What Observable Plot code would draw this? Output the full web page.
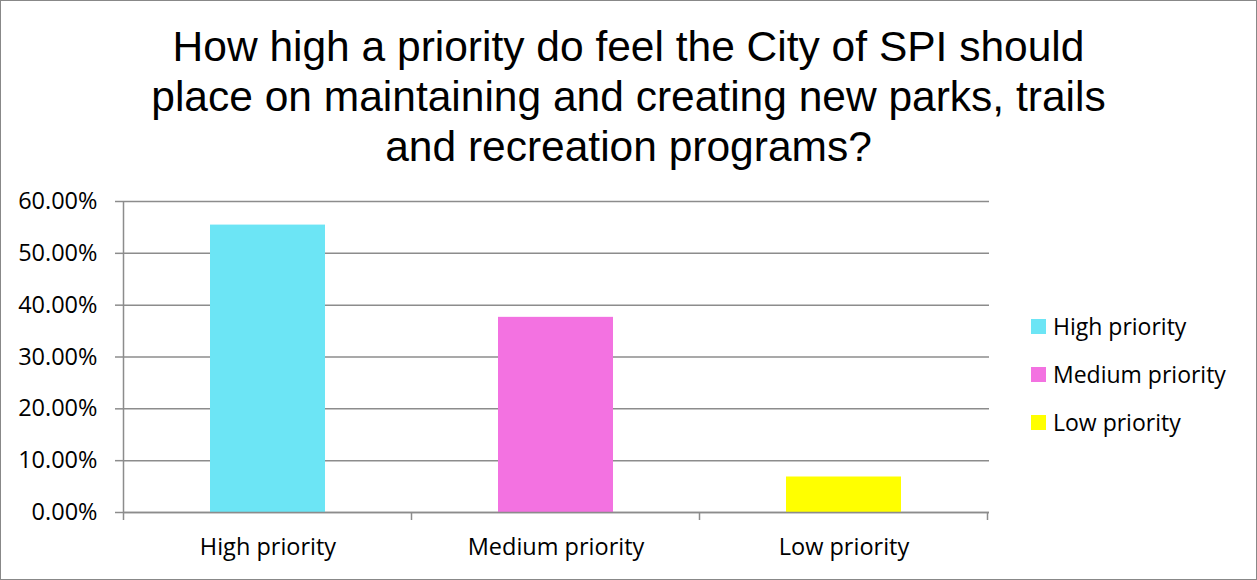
<!DOCTYPE html>
<html><head><meta charset="utf-8">
<script src="https://cdn.jsdelivr.net/npm/d3@7"></script>
<script src="https://cdn.jsdelivr.net/npm/@observablehq/plot@0.6"></script>
<style>
html,body{margin:0;padding:0;background:#fff;}
#wrap{position:relative;width:1257px;height:580px;overflow:hidden;}
#box{position:absolute;left:0;top:0;width:1255px;height:578px;border:1px solid #888;}
#title{position:absolute;left:0;top:22px;width:1257px;text-align:center;font-family:"Liberation Sans",Arial,sans-serif;font-size:42.5px;line-height:50px;color:#000;}
#chart{position:absolute;left:0;top:180px;}
#legend{position:absolute;left:1031px;top:302px;font-family:"Open Sans",Lato,sans-serif;font-size:23px;color:#000;}
.li{display:flex;align-items:center;height:48px;}
.sw{width:15px;height:15px;margin-right:7px;}
</style></head>
<body><div id="wrap"><div id="box"></div>
<div id="title">How high a priority do feel the City of SPI should<br>place on maintaining and creating new parks, trails<br>and recreation programs?</div>
<div id="chart"></div><div id="legend"></div></div>
<script>
const categories = ["High priority", "Medium priority", "Low priority"];
const values = [0.5545, 0.3765, 0.0685];
const colors = ["#6CE5F5", "#F372E1", "#FFFF00"];
const yTicks = [0, 0.1, 0.2, 0.3, 0.4, 0.5, 0.6];

const data = categories.map((c, i) => ({category: c, value: values[i]}));
const W = 1257, H = 390, mL = 123, mR = 268, mT = 21, mB = 58;
const gridColor = "#8c8c8c";

const plot = Plot.plot({
  width: W, height: H,
  marginLeft: mL, marginRight: mR, marginTop: mT, marginBottom: mB,
  style: {fontFamily: "'Open Sans', Lato, sans-serif", fontSize: "23.5px", color: "#000", background: "transparent"},
  x: {domain: categories, paddingInner: 0.6, paddingOuter: 0.3, label: null},
  y: {domain: [0, 0.6], label: null},
  color: {domain: categories, range: colors},
  marks: [
    Plot.gridY(yTicks, {stroke: gridColor, strokeOpacity: 1, strokeWidth: 1.5}),
    Plot.barY(data, {x: "category", y: "value", fill: "category"}),
    Plot.axisY(yTicks, {tickFormat: d3.format(".2%"), tickSize: 8, tickPadding: 18, stroke: gridColor, strokeWidth: 1.5, label: null}),
    Plot.axisX({tickSize: 0, tickPadding: 26, label: null}),
    Plot.ruleY([0], {stroke: gridColor, strokeWidth: 1.5})
  ]
});
document.getElementById("chart").appendChild(plot);

// axis line and category boundary ticks derived from scales
const xs = plot.scale("x"), ys = plot.scale("y");
const svg = d3.select(plot);
const step = xs.step;
const left = xs.apply(categories[0]) - (step - xs.bandwidth) / 2;
const y0 = ys.apply(0), yTop = ys.apply(0.6);
svg.append("line").attr("x1", left).attr("x2", left).attr("y1", yTop).attr("y2", y0 + 8)
  .attr("stroke", gridColor).attr("stroke-width", 1.5);
for (let i = 1; i <= categories.length; i++) {
  const xb = left + i * step;
  svg.append("line").attr("x1", xb).attr("x2", xb).attr("y1", y0).attr("y2", y0 + 8)
    .attr("stroke", gridColor).attr("stroke-width", 1.5);
}

const leg = document.getElementById("legend");
categories.forEach((c, i) => {
  const row = document.createElement("div"); row.className = "li";
  const sw = document.createElement("div"); sw.className = "sw"; sw.style.background = colors[i];
  const t = document.createElement("span"); t.textContent = c;
  row.appendChild(sw); row.appendChild(t); leg.appendChild(row);
});
</script></body></html>
